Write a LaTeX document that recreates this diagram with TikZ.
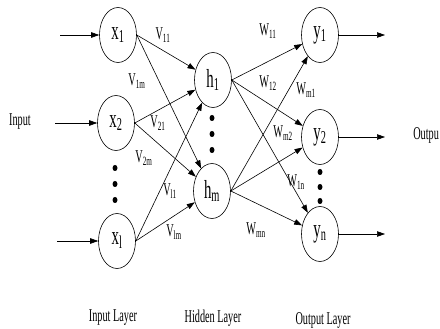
\documentclass[tikz,border=0pt]{standalone}
\usepackage{fontspec}
\setmainfont{Liberation Serif}[FakeStretch=0.57]
\usetikzlibrary{arrows.meta,shapes.geometric}

\begin{document}
\begin{tikzpicture}[x=1pt, y=-1pt, line width=0.6pt,
  neuron/.style={draw, ellipse, minimum width=37pt, minimum height=55pt, inner sep=0pt, font=\fontsize{26}{26}\selectfont},
  wlabel/.style={inner sep=0pt, font=\fontsize{18}{18}\selectfont},
  conn/.style={-{Triangle[length=8pt, width=5.5pt]}}]
  \useasboundingbox (0,0) rectangle (440,329);

  % Input layer
  \node[neuron] (x1) at (118,35) {x\textsubscript{1}};
  \node[neuron] (x2) at (116,123) {x\textsubscript{2}};
  \node[neuron] (xl) at (117,241) {x\textsubscript{l}};

  % Hidden layer
  \node[neuron] (h1) at (213,80) {h\textsubscript{1}};
  \node[neuron] (hm) at (212,191) {h\textsubscript{m}};

  % Output layer
  \node[neuron] (y1) at (320,35) {y\textsubscript{1}};
  \node[neuron] (y2) at (320,137) {y\textsubscript{2}};
  \node[neuron] (yn) at (320,234) {y\textsubscript{n}};

  % Dots
  \foreach \x/\y in {115/168, 115/184, 115/200, 212/118, 212/134, 212/150, 320/172, 320/187, 320/201} {
    \fill (\x,\y) ellipse (2.5pt and 3pt);
  }

  % Inputs and outputs
  \coordinate (in1) at (60,35);
  \coordinate (in2) at (55,123);
  \coordinate (inl) at (57,241);
  \coordinate (out1) at (385,35);
  \coordinate (out2) at (385,137);
  \coordinate (outn) at (385,234);
  \draw[conn] (in1) -- (x1);
  \draw[conn] (in2) -- (x2);
  \draw[conn] (inl) -- (xl);
  \draw[conn] (y1.east) -- (out1);
  \draw[conn] (y2.east) -- (out2);
  \draw[conn] (yn.east) -- (outn);

  % Weights
  \foreach \s in {x1, x2, xl} {
    \foreach \t in {h1, hm} {
      \draw[conn] (\s.east) -- (\t);
    }
  }
  \foreach \s in {h1, hm} {
    \foreach \t in {y1, y2, yn} {
      \draw[conn] (\s.east) -- (\t);
    }
  }

  % Weight labels
  \node[wlabel] (v11) at (163,35) {V\textsubscript{11}};
  \node[wlabel] (v1m) at (137,81) {V\textsubscript{1m}};
  \node[wlabel] (v21) at (158,123) {V\textsubscript{21}};
  \node[wlabel] (v2m) at (144,158) {V\textsubscript{2m}};
  \node[wlabel] (vl1) at (170,191) {V\textsubscript{l1}};
  \node[wlabel] (vlm) at (174,232) {V\textsubscript{lm}};
  \node[wlabel] (w11) at (268,31) {W\textsubscript{11}};
  \node[wlabel] (w12) at (268,83) {W\textsubscript{12}};
  \node[wlabel] (wm1) at (306,90) {W\textsubscript{m1}};
  \node[wlabel] (wm2) at (283,133) {W\textsubscript{m2}};
  \node[wlabel] (w1n) at (296,182) {W\textsubscript{1n}};
  \node[wlabel] (wmn) at (256,230) {W\textsubscript{mn}};

  % Side and layer labels
  \node[wlabel] (input) at (20,122) {Input};
  \node[wlabel, anchor=west] (output) at (413,135) {Outpu};
  \node[wlabel] (inlayer) at (113,318) {Input Layer};
  \node[wlabel] (hidlayer) at (213,318) {Hidden Layer};
  \node[wlabel] (outlayer) at (323,320) {Output Layer};
\end{tikzpicture}
\end{document}
